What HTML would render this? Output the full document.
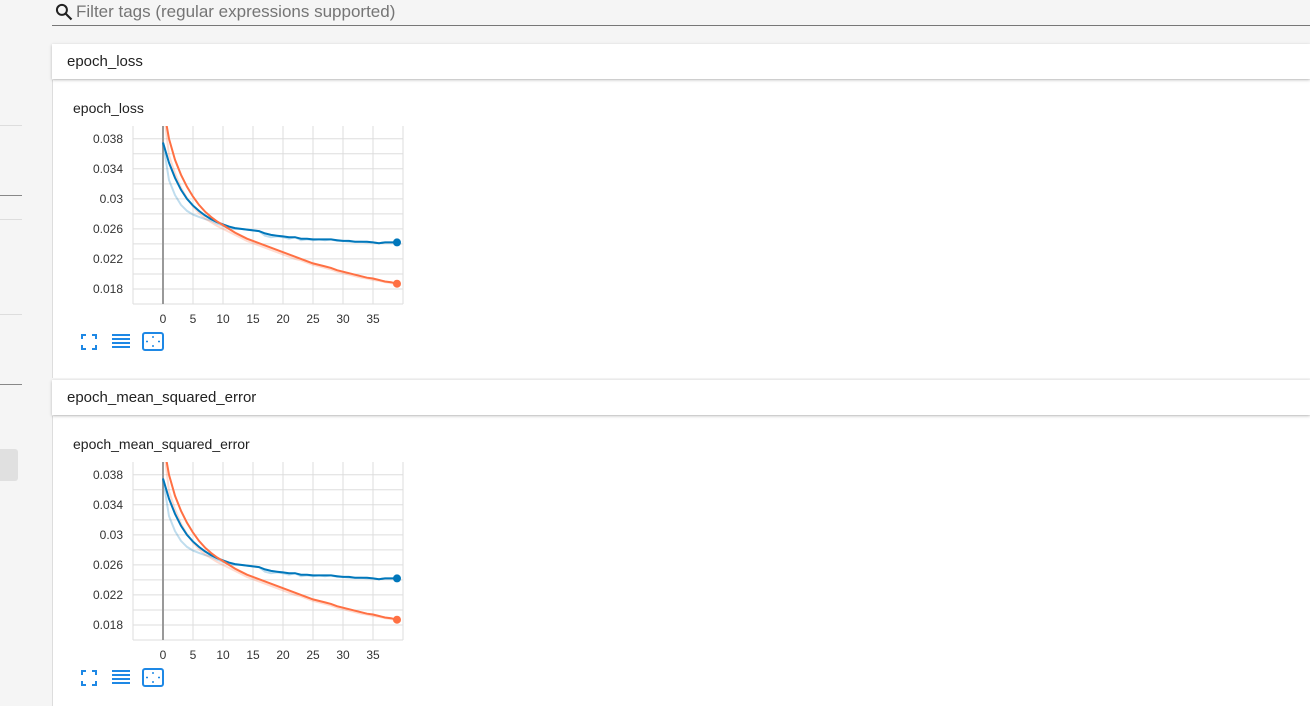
<!DOCTYPE html>
<html><head><meta charset="utf-8"><style>
body{margin:0;width:1310px;height:696px;overflow:hidden;background:#f5f5f5;font-family:"Liberation Sans",Roboto,sans-serif;position:relative}
.abs{position:absolute}
.sl{position:absolute;left:0;width:22px;height:1px}
.card{position:absolute;left:52px;width:1258px;background:#fff;border-left:1px solid #ddd}
.hdr{position:absolute;left:52px;width:1258px;height:35px;background:#fff;box-shadow:0 1px 3px rgba(0,0,0,.25);font-size:15px;line-height:35px;text-indent:15px;color:#222}
.title{position:absolute;left:73px;font-size:14px;color:#222}
</style></head><body>
<div class="abs" style="left:52px;top:0;width:1258px;height:25px;border-bottom:1px solid #777">
<svg class="abs" style="left:2px;top:2px" width="20" height="20" viewBox="0 0 24 24"><circle cx="9.5" cy="9.5" r="6" fill="none" stroke="#222" stroke-width="2.4"/><line x1="14" y1="14" x2="21" y2="21" stroke="#222" stroke-width="2.6"/></svg>
<span class="abs" style="left:24px;top:2px;font-size:17px;color:#757575">Filter tags (regular expressions supported)</span></div>
<div class="sl" style="top:125px;background:#ddd"></div>
<div class="sl" style="top:195px;background:#888"></div>
<div class="sl" style="top:219px;background:#ddd"></div>
<div class="sl" style="top:314px;background:#ddd"></div>
<div class="sl" style="top:384px;background:#888"></div>
<div class="abs" style="left:0;top:449px;width:18px;height:32px;background:#e0e0e0;border-radius:0 3px 3px 0"></div>

<div class="card" style="top:80px;height:298px"></div>
<div class="hdr" style="top:44px">epoch_loss</div>
<div class="title" style="top:100px">epoch_loss</div>
<svg id="c1" class="abs" style="left:0;top:0" width="420" height="360"></svg>

<div class="card" style="top:416px;height:290px"></div>
<div class="hdr" style="top:380px">epoch_mean_squared_error</div>
<div class="title" style="top:436px">epoch_mean_squared_error</div>
<svg id="c2" class="abs" style="left:0;top:336px" width="420" height="360"></svg>

<script>
const epochs=[0,1,2,3,4,5,6,7,8,9,10,11,12,13,14,15,16,17,18,19,20,21,22,23,24,25,26,27,28,29,30,31,32,33,34,35,36,37,38,39];
const blueSmooth=[0.0375,0.0348,0.0328,0.0312,0.0300,0.0291,0.0284,0.0278,0.0273,0.0269,0.0266,0.0263,0.0261,0.0260,0.0259,0.0258,0.0257,0.0254,0.0252,0.0251,0.0250,0.0249,0.0249,0.0247,0.0247,0.0246,0.0246,0.0246,0.0246,0.0245,0.0244,0.0244,0.0243,0.0243,0.0243,0.0242,0.0241,0.0242,0.0242,0.0242];
const blueRaw=[0.0375,0.0325,0.0305,0.0292,0.0284,0.0279,0.0276,0.0273,0.0271,0.0267,0.0264,0.0261,0.0260,0.0260,0.0259,0.0258,0.0257,0.0251,0.0249,0.0250,0.0249,0.0247,0.0249,0.0245,0.0246,0.0245,0.0246,0.0245,0.0246,0.0244,0.0244,0.0243,0.0243,0.0243,0.0242,0.0242,0.0241,0.0242,0.0242,0.0242];
const orangeSmooth=[0.0425,0.0380,0.0352,0.0332,0.0316,0.0303,0.0292,0.0283,0.0276,0.0270,0.0265,0.0260,0.0255,0.0251,0.0247,0.0244,0.0241,0.0238,0.0235,0.0232,0.0229,0.0226,0.0223,0.0220,0.0217,0.0214,0.0212,0.0210,0.0208,0.0205,0.0203,0.0201,0.0199,0.0197,0.0195,0.0194,0.0192,0.0190,0.0189,0.0187];
const orangeRaw=[0.0425,0.0358,0.0334,0.0315,0.0301,0.0290,0.0281,0.0274,0.0269,0.0264,0.0260,0.0256,0.0252,0.0248,0.0244,0.0241,0.0238,0.0235,0.0232,0.0229,0.0226,0.0223,0.0220,0.0218,0.0215,0.0212,0.0210,0.0208,0.0206,0.0203,0.0201,0.0199,0.0197,0.0195,0.0194,0.0192,0.0191,0.0189,0.0188,0.0186];
const yTicks=[0.018,0.022,0.026,0.03,0.034,0.038];
const yTickLabels=["0.018","0.022","0.026","0.03","0.034","0.038"];
const xTicks=[0,5,10,15,20,25,30,35];
const NS="http://www.w3.org/2000/svg";
const L=133,R=403,T=126,B=304,xmin=-5,xmax=40,ymin=0.016,ymax=0.0397;
const sx=v=>L+(v-xmin)/(xmax-xmin)*(R-L);
const sy=v=>B-(v-ymin)/(ymax-ymin)*(B-T);
function mk(svg,tag,at,txt){const e=document.createElementNS(NS,tag);for(const k in at)e.setAttribute(k,at[k]);if(txt!=null)e.textContent=txt;svg.appendChild(e);return e;}
function draw(id){
 const svg=document.getElementById(id);
 const defs=mk(svg,'defs',{});const cp=document.createElementNS(NS,'clipPath');cp.setAttribute('id',id+'clip');defs.appendChild(cp);
 const r=document.createElementNS(NS,'rect');r.setAttribute('x',L);r.setAttribute('y',T);r.setAttribute('width',R-L+4);r.setAttribute('height',B-T);cp.appendChild(r);
 for(let v=0.016;v<=0.0395;v+=0.002){const g=mk(svg,'line',{x1:L,x2:R,y1:sy(v),y2:sy(v),stroke:'#ddd','stroke-width':1});
  
  }
 for(let v=-5;v<=40;v+=5){const g=mk(svg,'line',{x1:sx(v),x2:sx(v),y1:T,y2:B,stroke:v===0?'#999':'#ddd','stroke-width':v===0?2:1});
  
  }
 yTicks.forEach((v,i)=>{const t=mk(svg,'text',{x:123,y:sy(v)+4,'text-anchor':'end','font-size':12,fill:'#333','font-family':'Liberation Sans'},yTickLabels[i]);
  
  });
 xTicks.forEach(v=>{const t=mk(svg,'text',{x:sx(v),y:323,'text-anchor':'middle','font-size':12,fill:'#333','font-family':'Liberation Sans'},String(v));
  
  });
 const g=mk(svg,'g',{'clip-path':'url(#'+id+'clip)'});
 
 
 const path=a=>a.map((v,i)=>(i?'L':'M')+sx(epochs[i]).toFixed(1)+','+sy(v).toFixed(1)).join('');
 [[blueRaw,'#0077bb',0.25,'blue-raw-line'],[orangeRaw,'#ff7043',0.25,'orange-raw-line'],[blueSmooth,'#0077bb',1,'blue-smoothed-line'],[orangeSmooth,'#ff7043',1,'orange-smoothed-line']].forEach(s=>{
  const p=mk(g,'path',{d:path(s[0]),fill:'none',stroke:s[1],'stroke-opacity':s[2],'stroke-width':2});
  
  });
 [[blueSmooth,'#0077bb','blue-last-point'],[orangeSmooth,'#ff7043','orange-last-point']].forEach(s=>{const n=s[0].length-1;
  const c=mk(svg,'circle',{cx:sx(epochs[n]),cy:sy(s[0][n]),r:4,fill:s[1]});
  
  });
 const ic='#1e88e5';
 const b1=mk(svg,'path',{d:'M82 339v-4h4M92 335h4v4M96 345v4h-4M86 349h-4v-4',fill:'none',stroke:ic,'stroke-width':2});
 
 
 const b2=mk(svg,'path',{d:'M112 335h18M112 339h18M112 343h18M112 347h18',fill:'none',stroke:ic,'stroke-width':2});
 
 
 const b3=mk(svg,'g',{});
 
 
 mk(b3,'rect',{x:143,y:333,width:20,height:17,rx:2,fill:'none',stroke:ic,'stroke-width':2});
 mk(b3,'path',{d:'M153 336v2M153 345v2M146 341.5h2M158 341.5h2',stroke:ic,'stroke-width':1.5});
}
draw('c1');draw('c2');
</script>
</body></html>
